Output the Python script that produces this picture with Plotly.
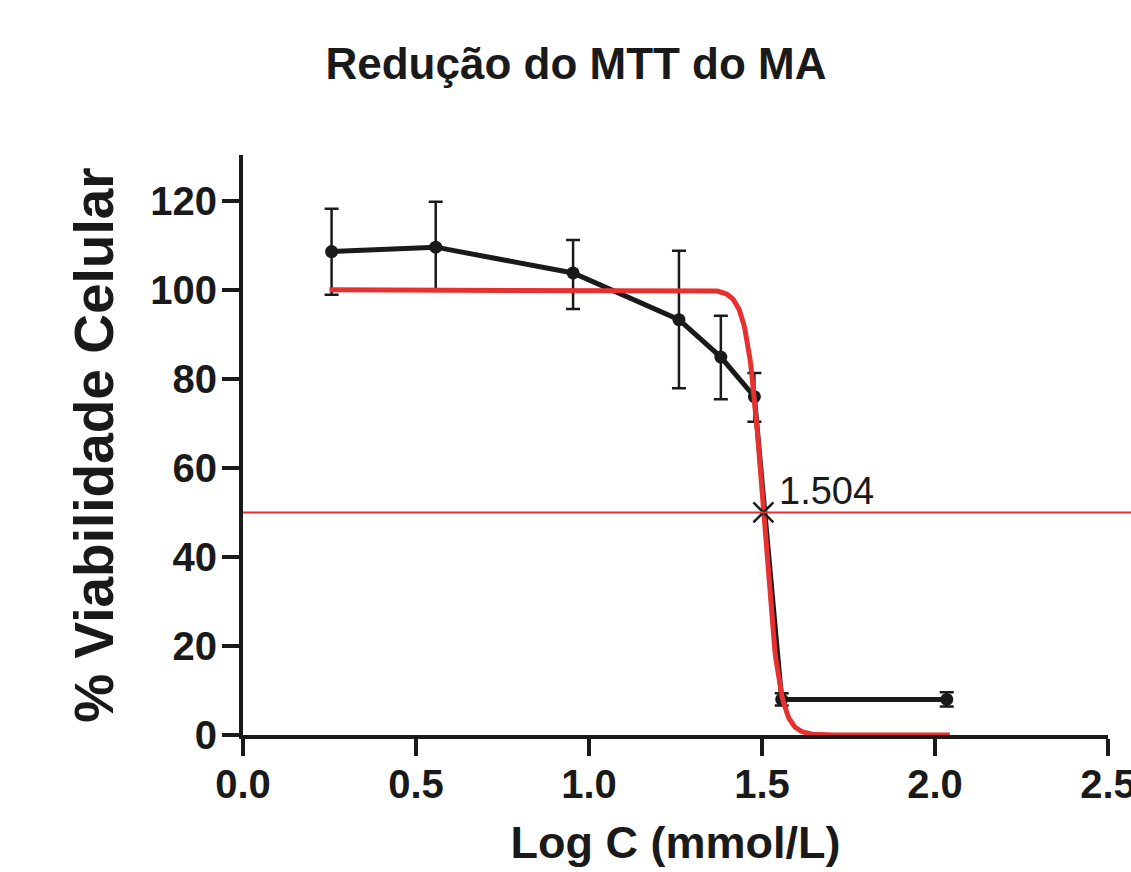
import numpy as np
import plotly.graph_objects as go

# ---- data ----
log_c = [0.256, 0.557, 0.954, 1.260, 1.381, 1.478, 1.557, 2.034]
viab = [108.6, 109.6, 103.8, 93.3, 84.9, 76.0, 8.0, 8.0]
err_plus = [9.6, 10.2, 7.4, 15.5, 9.3, 5.3, 1.4, 1.6]
err_minus = [9.7, 9.8, 8.1, 15.4, 9.5, 5.6, 1.4, 1.6]

# 4-parameter logistic fit (parameters)
fit_top = 100.0
fit_bottom = 0.0
log_ic50 = 1.504
hill_slope = -19.0
fit_x_start = 0.25
fit_x_end = 2.043

half_level = 50
ic50_label = "1.504"

x_ticks = [0.0, 0.5, 1.0, 1.5, 2.0, 2.5]
x_tick_text = ["0.0", "0.5", "1.0", "1.5", "2.0", "2.5"]
y_ticks = [0, 20, 40, 60, 80, 100, 120]

title = "Redução do MTT do MA"
x_title = "Log C (mmol/L)"
y_title = "% Viabilidade Celular"

RED = "#E5312F"
BLACK = "#1a1a1a"
FONT = "Liberation Sans, Arial, sans-serif"

fx = np.linspace(fit_x_start, fit_x_end, 600)
fy = fit_bottom + (fit_top - fit_bottom) / (1 + 10 ** ((log_ic50 - fx) * hill_slope))

fig = go.Figure()

fig.add_trace(go.Scatter(
    x=log_c, y=viab, mode="lines+markers",
    line=dict(color=BLACK, width=5),
    marker=dict(color=BLACK, size=13),
    error_y=dict(type="data", symmetric=False, array=err_plus, arrayminus=err_minus,
                 color=BLACK, thickness=2.5, width=7),
    cliponaxis=False, showlegend=False,
))

fig.add_trace(go.Scatter(
    x=fx, y=fy, mode="lines",
    line=dict(color=RED, width=5),
    showlegend=False,
))

fig.add_trace(go.Scatter(
    x=[log_ic50], y=[half_level], mode="markers",
    marker=dict(symbol="x-thin", size=20, line=dict(color=BLACK, width=2.5)),
    cliponaxis=False, showlegend=False,
))

fig.add_shape(type="line", xref="paper", yref="y", x0=0, x1=1.04,
              y0=half_level, y1=half_level, line=dict(color=RED, width=2))

fig.add_annotation(x=log_ic50, y=half_level, text=ic50_label, showarrow=False,
                   xanchor="left", yanchor="bottom", xshift=14, yshift=-2,
                   font=dict(family=FONT, size=38, color=BLACK))

fig.update_layout(
    width=1131, height=872,
    margin=dict(l=243, r=23, t=155, b=137, autoexpand=False),
    paper_bgcolor="white", plot_bgcolor="white",
    title=dict(text=title, x=576 / 1131, xref="container", xanchor="center",
               y=1 - 64 / 872, yref="container", yanchor="middle",
               font=dict(family=FONT, size=44, color=BLACK, weight="bold")),
    font=dict(family=FONT, color=BLACK),
)

fig.update_xaxes(
    range=[0, 2.5], tickvals=x_ticks, ticktext=x_tick_text,
    showgrid=False, zeroline=False, automargin=False,
    showline=True, linecolor=BLACK, linewidth=4,
    ticks="outside", ticklen=17, tickwidth=4, tickcolor=BLACK,
    ticklabeloverflow="allow", ticklabelstandoff=-6,
    tickfont=dict(family=FONT, size=40, color=BLACK, weight="bold"),
    title=dict(text=x_title, standoff=22,
               font=dict(family=FONT, size=45, color=BLACK, weight="bold")),
)

fig.update_yaxes(
    range=[0, 130.3], tickvals=y_ticks,
    showgrid=False, zeroline=False, automargin=False,
    showline=True, linecolor=BLACK, linewidth=4,
    ticks="outside", ticklen=17, tickwidth=4, tickcolor=BLACK,
    ticklabeloverflow="allow", ticklabelstandoff=-3,
    tickfont=dict(family=FONT, size=40, color=BLACK, weight="bold"),
    title=dict(text=y_title, standoff=20,
               font=dict(family=FONT, size=55, color=BLACK, weight="bold")),
)

fig.write_html("out.html")
